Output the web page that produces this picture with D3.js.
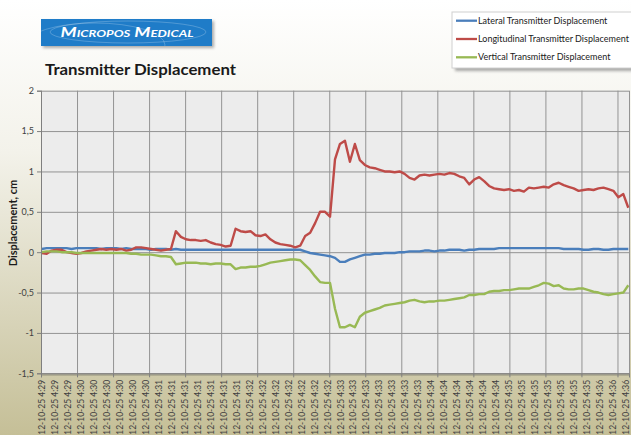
<!DOCTYPE html>
<html>
<head>
<meta charset="utf-8">
<script src="https://cdn.jsdelivr.net/npm/d3@7"></script>
<style>
  body { margin: 0; background: #fff; }
  svg { display: block; font-family: Lato, "Liberation Sans", sans-serif; }
</style>
</head>
<body>
<div id="chart"></div>
<script>
// category labels (one every 9 samples in the original sheet)
const tickLabels = [
  "12-10-25 4:29", "12-10-25 4:29", "12-10-25 4:29",
  "12-10-25 4:30", "12-10-25 4:30", "12-10-25 4:30", "12-10-25 4:30", "12-10-25 4:30", "12-10-25 4:30",
  "12-10-25 4:31", "12-10-25 4:31", "12-10-25 4:31", "12-10-25 4:31", "12-10-25 4:31", "12-10-25 4:31", "12-10-25 4:31",
  "12-10-25 4:32", "12-10-25 4:32", "12-10-25 4:32", "12-10-25 4:32", "12-10-25 4:32", "12-10-25 4:32", "12-10-25 4:32",
  "12-10-25 4:33", "12-10-25 4:33", "12-10-25 4:33", "12-10-25 4:33", "12-10-25 4:33", "12-10-25 4:33", "12-10-25 4:33",
  "12-10-25 4:34", "12-10-25 4:34", "12-10-25 4:34", "12-10-25 4:34", "12-10-25 4:34", "12-10-25 4:34",
  "12-10-25 4:35", "12-10-25 4:35", "12-10-25 4:35", "12-10-25 4:35", "12-10-25 4:35", "12-10-25 4:35", "12-10-25 4:35",
  "12-10-25 4:36", "12-10-25 4:36", "12-10-25 4:36"
];
const yTicks = [-1.5, -1, -0.5, 0, 0.5, 1, 1.5, 2];

const seriesNames = [
  "Lateral Transmitter Displacement",
  "Longitudinal Transmitter Displacement",
  "Vertical Transmitter Displacement"
];

// displacement in cm
const lateral = [
  0.04, 0.05, 0.05, 0.05, 0.05, 0.05, 0.04, 0.05, 0.05, 0.05,
  0.05, 0.05, 0.04, 0.05, 0.05, 0.05, 0.04, 0.05, 0.04, 0.04,
  0.04, 0.04, 0.03, 0.04, 0.04, 0.04, 0.03, 0.04, 0.03, 0.03,
  0.03, 0.03, 0.03, 0.03, 0.03, 0.03, 0.03, 0.03, 0.03, 0.03,
  0.03, 0.03, 0.03, 0.03, 0.03, 0.03, 0.03, 0.03, 0.03, 0.03,
  0.03, 0.03, 0.03, 0.01, -0.01, -0.02, -0.03, -0.04, -0.05, -0.07,
  -0.12, -0.12, -0.09, -0.07, -0.05, -0.03, -0.03, -0.02, -0.02, -0.01,
  -0.01, -0.01, 0.0, 0.0, 0.01, 0.01, 0.01, 0.02, 0.02, 0.01,
  0.02, 0.02, 0.03, 0.03, 0.03, 0.02, 0.03, 0.03, 0.04, 0.04,
  0.04, 0.04, 0.05, 0.05, 0.05, 0.05, 0.05, 0.05, 0.05, 0.05,
  0.05, 0.05, 0.05, 0.05, 0.05, 0.04, 0.04, 0.04, 0.04, 0.03,
  0.03, 0.04, 0.04, 0.03, 0.03, 0.04, 0.04, 0.04, 0.04
];
const longitudinal = [
  -0.01, -0.02, 0.02, 0.03, 0.03, 0.0, -0.01, -0.02, -0.01, 0.01,
  0.02, 0.03, 0.04, 0.03, 0.04, 0.03, 0.04, 0.02, 0.03, 0.06,
  0.06, 0.05, 0.04, 0.03, 0.02, 0.03, 0.04, 0.26, 0.19, 0.16,
  0.15, 0.15, 0.14, 0.15, 0.12, 0.10, 0.09, 0.07, 0.08, 0.29,
  0.26, 0.25, 0.26, 0.21, 0.20, 0.22, 0.16, 0.12, 0.10, 0.09,
  0.08, 0.06, 0.08, 0.20, 0.24, 0.36, 0.50, 0.50, 0.44, 1.15,
  1.34, 1.38, 1.12, 1.34, 1.14, 1.08, 1.05, 1.04, 1.02, 1.00,
  1.00, 0.99, 1.00, 0.97, 0.92, 0.90, 0.95, 0.96, 0.95, 0.96,
  0.97, 0.96, 0.98, 0.97, 0.94, 0.92, 0.84, 0.90, 0.93, 0.88,
  0.82, 0.79, 0.78, 0.77, 0.78, 0.76, 0.77, 0.75, 0.80, 0.79,
  0.80, 0.81, 0.80, 0.84, 0.86, 0.83, 0.81, 0.79, 0.76, 0.77,
  0.78, 0.77, 0.79, 0.80, 0.78, 0.76, 0.68, 0.72, 0.55
];
const vertical = [
  0.0, 0.01, 0.01, 0.01, 0.0, 0.0, 0.0, -0.01, -0.01, -0.01,
  -0.01, -0.01, -0.01, -0.01, -0.01, -0.01, -0.01, -0.01, -0.02, -0.02,
  -0.03, -0.03, -0.03, -0.04, -0.05, -0.05, -0.06, -0.15, -0.14, -0.13,
  -0.13, -0.13, -0.14, -0.14, -0.15, -0.14, -0.14, -0.15, -0.15, -0.21,
  -0.19, -0.19, -0.18, -0.18, -0.17, -0.15, -0.13, -0.12, -0.11, -0.10,
  -0.09, -0.09, -0.10, -0.16, -0.22, -0.30, -0.37, -0.38, -0.38, -0.70,
  -0.93, -0.93, -0.90, -0.93, -0.80, -0.75, -0.73, -0.71, -0.69, -0.66,
  -0.65, -0.64, -0.63, -0.62, -0.60, -0.59, -0.61, -0.62, -0.61, -0.61,
  -0.60, -0.60, -0.59, -0.58, -0.57, -0.56, -0.53, -0.53, -0.52, -0.52,
  -0.49, -0.48, -0.48, -0.47, -0.47, -0.46, -0.45, -0.45, -0.45, -0.43,
  -0.41, -0.38, -0.39, -0.42, -0.41, -0.45, -0.46, -0.46, -0.45, -0.45,
  -0.47, -0.49, -0.50, -0.52, -0.53, -0.52, -0.51, -0.50, -0.41
];

const colors = ["#4a7ebb", "#be4b48", "#98b954"];

const W = 631, H = 435;
const margin = {top: 90.7, left: 41, right: 2, bottom: 61.7};
const width = W - margin.left - margin.right;
const height = H - margin.top - margin.bottom;
const nCategories = 408, labelEvery = 9, tickEvery = 25;

const svg = d3.select("#chart").append("svg")
  .attr("width", W).attr("height", H);

const defs = svg.append("defs");
const bg = defs.append("linearGradient").attr("id", "bg")
  .attr("x1", 0).attr("y1", 0).attr("x2", 0).attr("y2", 1);
bg.append("stop").attr("offset", "0%").attr("stop-color", "#ffffff");
bg.append("stop").attr("offset", "35%").attr("stop-color", "#f3f2ea");
bg.append("stop").attr("offset", "100%").attr("stop-color", "#c5bf97");

const blur = defs.append("filter").attr("id", "shadow")
  .attr("x", "-10%").attr("y", "-10%").attr("width", "130%").attr("height", "160%");
blur.append("feGaussianBlur").attr("stdDeviation", 1.5);

defs.append("clipPath").attr("id", "logoclip")
  .append("rect").attr("x", 41).attr("y", 19).attr("width", 171).attr("height", 27);

svg.append("rect").attr("width", W).attr("height", H).attr("fill", "url(#bg)");

// logo
svg.append("rect").attr("x", 43).attr("y", 21).attr("width", 171).attr("height", 27)
  .attr("fill", "#777").attr("opacity", 0.6).attr("filter", "url(#shadow)");
svg.append("rect").attr("x", 41).attr("y", 19).attr("width", 171).attr("height", 27)
  .attr("fill", "#1f7cc8");
const deco = svg.append("g").attr("clip-path", "url(#logoclip)")
  .attr("fill", "none").attr("stroke", "#ffffff").attr("stroke-opacity", 0.22);
deco.append("ellipse").attr("cx", 128).attr("cy", 32).attr("rx", 78).attr("ry", 11);
deco.append("ellipse").attr("cx", 95).attr("cy", 45).attr("rx", 70).attr("ry", 22);
svg.append("text").attr("x", 127).attr("y", 37)
  .attr("text-anchor", "middle")
  .attr("fill", "#ffffff")
  .style("font-size", "14px").style("font-weight", "bold").style("font-style", "italic")
  .style("font-variant", "small-caps")
  .attr("textLength", 133).attr("lengthAdjust", "spacingAndGlyphs")
  .text("Micropos Medical");

// title
svg.append("text").attr("x", 45).attr("y", 75)
  .attr("fill", "#1a1a1a")
  .style("font-size", "16px").style("font-weight", "bold")
  .attr("textLength", 191).attr("lengthAdjust", "spacingAndGlyphs")
  .text("Transmitter Displacement");

const g = svg.append("g").attr("transform", `translate(${margin.left},${margin.top})`);

const xCat = d3.scaleLinear().domain([0, nCategories]).range([0, width]);
const xs = d3.scaleLinear().domain([0, lateral.length - 1]).range([0.7, width - 0.7]);
const y = d3.scaleLinear().domain([-1.5, 2]).range([height, 0]);

g.append("rect").attr("width", width).attr("height", height).attr("fill", "#ececec");

const gridTicks = d3.range(0, nCategories + 1, tickEvery).concat([nCategories]);

// grid
g.append("g").attr("class", "grid")
  .call(d3.axisLeft(y).tickValues(yTicks).tickSize(-width).tickFormat(""))
  .call(s => s.select(".domain").remove())
  .selectAll("line").attr("stroke", "#939393");
g.append("g").attr("class", "grid")
  .attr("transform", `translate(0,${height})`)
  .call(d3.axisBottom(xCat).tickValues(gridTicks).tickSize(-height).tickFormat(""))
  .call(s => s.select(".domain").remove())
  .selectAll("line").attr("stroke", "#939393");

// series
const line = d3.line().x((d, i) => xs(i)).y(d => y(d));
[lateral, longitudinal, vertical].forEach(function (data, k) {
  g.append("path")
    .datum(data)
    .attr("fill", "none")
    .attr("stroke", colors[k])
    .attr("stroke-width", 2.4)
    .attr("stroke-linejoin", "round")
    .attr("d", line);
});

// y axis
const yAxis = g.append("g")
  .call(d3.axisLeft(y).tickValues(yTicks).tickSize(4).tickPadding(3)
    .tickFormat(d => String(d).replace(".", ",")));
yAxis.select(".domain").attr("stroke", "#7f7f7f");
yAxis.selectAll(".tick line").attr("stroke", "#7f7f7f");
yAxis.selectAll("text").attr("fill", "#404040").style("font-size", "9px")
  .style("font-family", "Lato, sans-serif");

// x axis shadow + line
g.append("line").attr("x1", 0).attr("x2", width).attr("y1", height + 1.8).attr("y2", height + 1.8)
  .attr("stroke", "#9d9a85").attr("stroke-width", 2).attr("opacity", 0.6);
const xTickAxis = g.append("g").attr("transform", `translate(0,${height})`)
  .call(d3.axisBottom(xCat).tickValues(gridTicks).tickSize(4).tickFormat(""));
xTickAxis.select(".domain").attr("stroke", "#7f7f7f");
xTickAxis.selectAll("line").attr("stroke", "#7f7f7f");

const labelPos = tickLabels.map((d, i) => i * labelEvery + 0.5);
const xLabels = g.append("g").attr("transform", `translate(0,${height})`)
  .call(d3.axisBottom(xCat).tickValues(labelPos).tickSize(0)
    .tickFormat((d, i) => tickLabels[i]));
xLabels.select(".domain").remove();
xLabels.selectAll("text")
  .attr("x", -6.5).attr("y", 0).attr("dy", "0.35em")
  .attr("transform", "rotate(-90)")
  .style("text-anchor", "end")
  .style("font-size", "8.5px")
  .style("font-family", "Lato, sans-serif")
  .attr("fill", "#404040");

// y axis title
svg.append("text")
  .attr("transform", "rotate(-90)")
  .attr("x", -223).attr("y", 17)
  .attr("text-anchor", "middle")
  .style("font-size", "11px").style("font-weight", "bold")
  .attr("fill", "#1a1a1a")
  .text("Displacement, cm");

// legend
const lg = svg.append("g").attr("transform", "translate(452,12)");
lg.append("rect").attr("x", 3).attr("y", 3).attr("width", 200).attr("height", 56)
  .attr("fill", "#666").attr("opacity", 0.55).attr("filter", "url(#shadow)");
lg.append("rect").attr("width", 200).attr("height", 56)
  .attr("fill", "#ffffff").attr("stroke", "#d0d0d0");
const items = lg.selectAll("g.item").data(seriesNames).enter().append("g")
  .attr("class", "item")
  .attr("transform", (d, i) => `translate(0,${8.7 + i * 18.3})`);
items.append("line").attr("x1", 4).attr("x2", 25)
  .attr("stroke", (d, i) => colors[i]).attr("stroke-width", 2.3);
items.append("text").attr("x", 26).attr("dy", "0.35em")
  .style("font-size", "9px").attr("fill", "#1a1a1a")
  .text(d => d);
</script>
</body>
</html>
